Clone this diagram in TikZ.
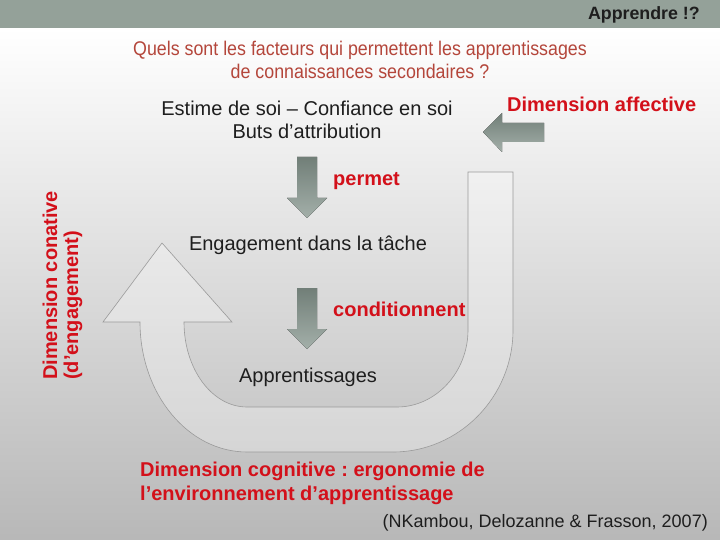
\documentclass[tikz,border=0pt]{standalone}
\usepackage{fontspec}
\setmainfont{Liberation Sans}
\newfontfamily\narrowFont[FakeStretch=0.9]{Liberation Sans}
\usetikzlibrary{positioning}
\frenchspacing

\tikzset{
    bodyText/.style={font=\fontsize{20}{23}\selectfont, text=textColour, inner sep=0pt},
    redLabel/.style={font=\bfseries\fontsize{20}{24}\selectfont, text=redColour, inner sep=0pt},
    blockArrow/.style={top color=arrowColour!85!black, bottom color=arrowColour!75!white, draw=none}
}

\begin{document}
\begin{tikzpicture}[x=1pt, y=-1pt]
    % Define colours
    \definecolor{barColour}{HTML}{94A199}
    \definecolor{titleColour}{HTML}{B4463B}
    \definecolor{redColour}{HTML}{D3101A}
    \definecolor{textColour}{HTML}{1E1E1E}
    \definecolor{arrowColour}{HTML}{85958D}
    \definecolor{outlineColour}{HTML}{9A9A9A}

    \useasboundingbox (0,0) rectangle (720,540);

    % Draw background and top bar
    \shade[top color=white, bottom color=black!28] (0,28) rectangle (720,540);
    \fill[barColour] (0,0) rectangle (720,28);
    \node[anchor=base east, inner sep=0pt, font=\bfseries\fontsize{17.8}{20}\selectfont, text=textColour] (header) at (700,20) {Apprendre !?};

    % Title
    \node[anchor=base, inner sep=0pt, align=center, text=titleColour, font=\narrowFont\fontsize{19.8}{23}\selectfont] (title) at (360,79)
        {Quels sont les facteurs qui permettent les apprentissages\\de connaissances secondaires ?};

    % Draw the big return arrow
    \filldraw[fill=white, fill opacity=0.3, draw=outlineColour, line width=0.6pt]
        (513,172) -- (513,330) .. controls (513,397) and (459,452) .. (393,452)
        -- (247,452) .. controls (188,452) and (140,394) .. (140,322)
        -- (103,322) -- (162,243) -- (232,322) -- (184,322)
        .. controls (184,369) and (212,407) .. (247,407)
        -- (397,407) .. controls (436,407) and (468,372) .. (468,330)
        -- (468,172) -- cycle;

    % Draw the block arrows
    \def\downArrow#1#2{
        \fill[blockArrow] (#1-10,#2) -- (#1+10,#2) -- (#1+10,#2+41) -- (#1+20,#2+41)
            -- (#1,#2+61) -- (#1-20,#2+41) -- (#1-10,#2+41) -- cycle;
    }
    \downArrow{307}{157}
    \downArrow{307}{288}
    \fill[blockArrow] (544,123) -- (544,142) -- (502,142) -- (502,152) -- (483,132)
        -- (502,113) -- (502,123) -- cycle;

    % Text of the chain
    \node[bodyText, anchor=base, align=center] (esteem) at (307,139) {Estime de soi -- Confiance en soi\\Buts d’attribution};
    \node[bodyText, anchor=base] (engagement) at (308,250) {Engagement dans la tâche};
    \node[bodyText, anchor=base] (learning) at (308,382) {Apprentissages};

    % Red labels
    \node[redLabel, anchor=base west] (affective) at (507,112) {Dimension affective};
    \node[redLabel, anchor=base west] (permet) at (333,186) {permet};
    \node[redLabel, anchor=base west] (condition) at (333,316) {conditionnent};
    \node[redLabel, anchor=base west, align=left] (cognitive) at (140,500)
        {Dimension cognitive : ergonomie de\\l’environnement d’apprentissage};
    \node[redLabel, anchor=base west, rotate=90] (conative) at (57,380) {Dimension conative};
    \node[redLabel, anchor=base west, rotate=90] (engaging) at (78,380) {(d’engagement)};

    % Reference
    \node[bodyText, anchor=base east, font=\fontsize{18}{20}\selectfont] (reference) at (708,527) {(NKambou, Delozanne \& Frasson, 2007)};
\end{tikzpicture}
\end{document}
